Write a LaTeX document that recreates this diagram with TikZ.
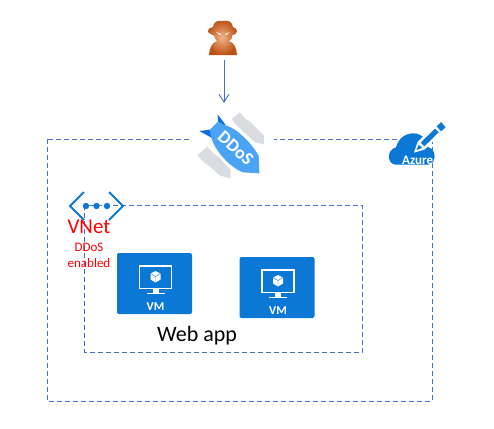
\documentclass[tikz,border=0pt]{standalone}
\usepackage{fontspec}
\setmainfont{Carlito}
\usetikzlibrary{arrows.meta,positioning}
\definecolor{azureblue}{HTML}{0A78D4}
\definecolor{bombblue}{HTML}{4BA3F5}
\definecolor{bombdark}{HTML}{0F6FDC}
\definecolor{bombgray}{HTML}{D9DCE1}
\definecolor{dashblue}{HTML}{4472C4}
\definecolor{hoodedge}{HTML}{BD5214}
\definecolor{hoodglow}{HTML}{F0B48C}
\begin{document}
\begin{tikzpicture}[
    x=1pt, y=-1pt,
    boundary/.style={draw=dashblue, line width=0.9pt, dash pattern=on 5pt off 3pt},
    icon/.style={inner sep=0pt, outer sep=0pt},
    vmbox/.style={fill=azureblue, rounded corners=2pt, minimum width=75pt, minimum height=61pt, inner sep=0pt},
    vmicon/.pic={
        \draw[white, line width=1.2pt] (-15,-17.5) rectangle (17,5);
        \fill[white] (-2,5) rectangle (4,9);
        \fill[white] (-8,9) rectangle (10,10.5);
        \fill[white] (1,-12.5) -- (6,-10) -- (6,-4) -- (1,-1) -- (-4,-4) -- (-4,-10) -- cycle;
        \draw[azureblue, line width=0.4pt] (-4,-10) -- (1,-7) -- (6,-10) (1,-7) -- (1,-1);
        \node[text=white, font=\bfseries\fontsize{12}{12}\selectfont] at (1,23) {VM};
    },
    >={Straight Barb[length=8pt,width=10pt]}
]
\useasboundingbox (0,0) rectangle (494,428);
\draw[boundary] (47,139) rectangle (432,401);
\draw[boundary] (84.5,205) rectangle (362,352);

% attacker
\node[icon, minimum width=30pt, minimum height=39pt] (attacker) at (224,40.5) {};
\shade[inner color=hoodglow, outer color=hoodedge]
    (223,21) .. controls (217,20) and (214,22) .. (213,27)
    .. controls (209,28) and (207,30) .. (208,32)
    .. controls (210,34) and (212,35) .. (214,35.5)
    .. controls (215,39) and (216,40) .. (217,41)
    .. controls (212,43) and (210,46) .. (209,55)
    -- (237,55)
    .. controls (236,46) and (234,43) .. (229,41)
    .. controls (231,40) and (232,39) .. (232,35.5)
    .. controls (235,35) and (237,33) .. (237,31)
    .. controls (237,29) and (235,28) .. (233,27)
    .. controls (232,22) and (229,20) .. (223,21) -- cycle;
\fill[white] (216,32) -- (221,34) -- (220,35) -- cycle;
\fill[white] (230,32) -- (225,34) -- (226,35) -- cycle;

% bomb
\node[icon, fill=white, minimum width=84pt, minimum height=82pt] (ddos) at (232,144) {};
\begin{scope}[shift={(190,105)}, scale=0.3333]
    \fill[bombgray] (125,42) -- (150,22) -- (165,40) -- (180,50) -- (222,92) -- (222,118) -- (195,112) -- (150,70) -- (138,60) -- cycle;
    \fill[bombgray] (22,150) -- (52,125) -- (70,145) -- (85,155) -- (122,195) -- (122,220) -- (90,212) -- (60,185) -- (45,175) -- cycle;
    \fill[bombdark] (83,28) -- (107,60) -- (100,70) -- (84,50) -- cycle;
    \fill[bombdark] (28,78) -- (60,74) -- (78,92) -- (68,100) -- cycle;
    \fill[bombblue] (84,50) -- (103,60) .. controls (140,68) and (185,115) .. (206,152) -- (208,205) -- (158,202) .. controls (118,185) and (78,140) .. (64,100) -- (60,74) -- cycle;
    \node[text=white, rotate=-42, font=\bfseries\fontsize{18}{18}\selectfont] (bombtext) at (137,130) {DDoS};
\end{scope}

% azure cloud
\node[icon, minimum width=56pt, minimum height=33pt] (azure) at (416,149) {};
\begin{scope}[shift={(380,118)}, scale=0.3333]
    \fill[azureblue] (45,140) .. controls (20,135) and (20,95) .. (48,88)
    .. controls (55,62) and (75,46) .. (100,46)
    .. controls (128,46) and (143,70) .. (145,88)
    .. controls (170,92) and (170,138) .. (145,140) -- cycle;
    \fill[white] (102,104) -- (113,72) -- (165,20) -- (187,42) -- (135,94) -- cycle;
    \fill[azureblue] (110,96) -- (116,80) -- (126,90) -- cycle;
    \fill[azureblue] (122,74) -- (165,32) -- (176,43) -- (133,85) -- cycle;
    \fill[azureblue] (170,25) -- (183,12) -- (197,28) -- (183,40) -- cycle;
    \node[text=white, font=\bfseries\fontsize{13}{13}\selectfont] (azurename) at (113,127) {Azure};
\end{scope}

% vnet
\node[icon, minimum width=56pt, minimum height=30pt] (vnet) at (96,206) {};
\draw[azureblue, line width=1.8pt] (84,192) -- (70,206) -- (84,220);
\draw[azureblue, line width=1.8pt] (109,192) -- (123,206) -- (109,220);
\foreach \px in {86,96.5,107} {
    \fill[azureblue] (\px,206) circle (3.2);
}
\node[text=red, font=\fontsize{21}{21}\selectfont] (vnetname) at (89,227) {VNet};
\node[text=red, font=\fontsize{13}{16}\selectfont, align=center] (vnetnote) at (89,255) {DDoS\\enabled};

% web app
\node[vmbox] (vmleft) at (154.5,283.5) {};
\pic at (vmleft) {vmicon};
\node[vmbox] (vmright) at (277,287.5) {};
\pic at (vmright) {vmicon};
\node[font=\fontsize{22}{22}\selectfont] (webapp) at (197,336) {Web app};

\draw[->, draw=dashblue, line width=0.9pt] (attacker.south) -- (attacker.south |- ddos.north);
\end{tikzpicture}
\end{document}
